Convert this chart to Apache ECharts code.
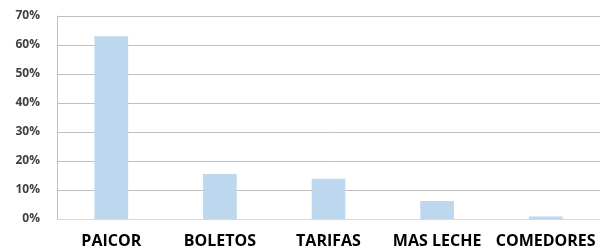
<!DOCTYPE html>
<html>
<head>
<meta charset="utf-8">
<script src="https://cdn.jsdelivr.net/npm/echarts@6/dist/echarts.min.js"></script>
<style>
  html, body { margin: 0; padding: 0; background: #fff; }
  #chart { width: 601px; height: 252px; }
</style>
</head>
<body>
<div id="chart"></div>
<script>
const categories = ["PAICOR", "BOLETOS", "TARIFAS", "MAS LECHE", "COMEDORES"];
const shares = [63, 15.5, 13.9, 6.2, 0.9];

const chart = echarts.init(document.getElementById("chart"));
chart.setOption({
  animation: false,
  grid: { left: 57, right: 1, top: 16, bottom: 33 },
  xAxis: {
    type: "category",
    data: categories,
    axisLine: { lineStyle: { color: "#d9d9d9", width: 1 } },
    axisTick: { show: false },
    axisLabel: {
      interval: 0,
      margin: 14,
      color: "#000",
      fontFamily: "Open Sans",
      fontWeight: "bold",
      fontSize: 16,
    },
  },
  yAxis: {
    type: "value",
    min: 0,
    max: 70,
    interval: 10,
    axisLine: { show: true, lineStyle: { color: "#bfbfbf" } },
    axisTick: { show: false },
    splitLine: { lineStyle: { color: "#bfbfbf" } },
    axisLabel: {
      formatter: "{value}%",
      margin: 17,
      color: "#404040",
      fontFamily: "Open Sans",
      fontWeight: "bold",
      fontSize: 12,
    },
  },
  series: [
    {
      type: "bar",
      data: shares,
      barWidth: "31%",
      itemStyle: { color: "#bdd7ee" },
    },
  ],
});
</script>
</body>
</html>
